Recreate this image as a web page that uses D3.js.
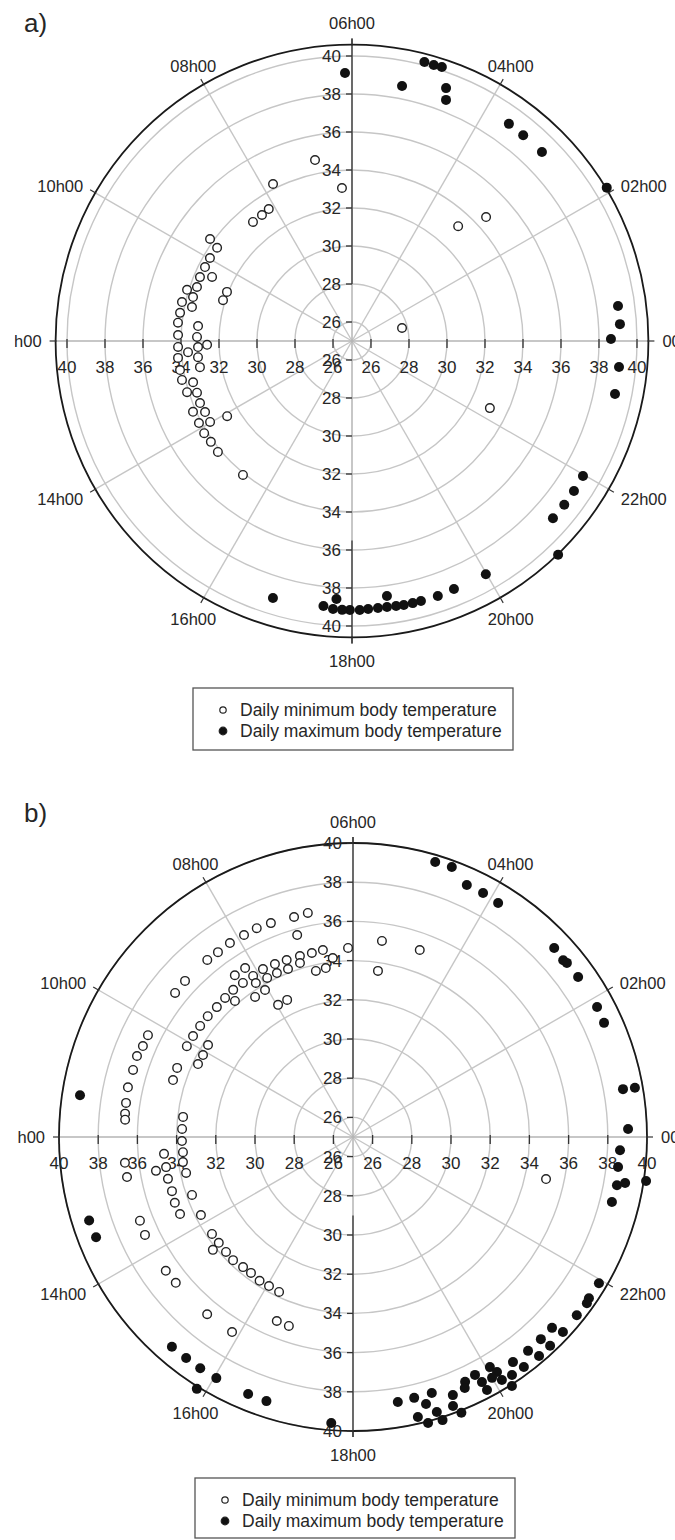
<!DOCTYPE html>
<html>
<head>
<meta charset="utf-8">
<script src="https://cdn.jsdelivr.net/npm/d3@7"></script>
<style>
  body { margin: 0; background: #fff; }
  text { font-family: "Liberation Sans", Arial, sans-serif; fill: #262626; }
</style>
</head>
<body>
<script>
// ---- data ----
var hourTicks = [0, 2, 4, 6, 8, 10, 12, 14, 16, 18, 20, 22]
var hourLabels = ['00h00', '02h00', '04h00', '06h00', '08h00', '10h00', '12h00', '14h00', '16h00', '18h00', '20h00', '22h00']
var tempTicks = [26, 28, 30, 32, 34, 36, 38, 40]
var legendLabels = ['Daily minimum body temperature', 'Daily maximum body temperature']

// [hour of day, body temperature]
var aMin = [[6.77,34.72],[6.25,33.07],[7.78,34.25],[8.15,33.21],[8.37,33.15],[8.65,33.15],[9.62,34.2],[9.69,33.63],
  [9.98,33.66],[10.22,33.66],[10.48,33.68],[10.36,33.1],[10.72,33.64],[10.85,34.09],[10.97,33.68],[11.14,34.18],
  [11.2,33.61],[11.38,34.17],[10.57,32.07],[10.83,32.12],[11.6,34.21],[11.63,33.14],[11.87,34.16],[11.9,33.16],
  [12.13,34.16],[12.15,33.11],[12.1,32.63],[12.26,33.65],[12.37,34.2],[12.4,33.15],[12.64,34.18],[12.65,33.12],
  [12.86,34.18],[12.97,33.64],[13.15,34.09],[13.23,33.6],[13.48,33.64],[13.6,34.16],[13.72,33.59],[13.88,34.14],
  [13.98,33.6],[14.13,34.17],[14.37,34.13],[14.64,34.16],[14.07,32.67],[15.39,34.09],[3.15,33.23],[2.85,34.61],
  [0.97,27.72],[22.27,33.07]]
var aMax = [[6.1,39.11],[5.26,38.68],[5.03,40.17],[4.9,40.15],[4.79,40.18],[4.64,39.2],[4.58,38.62],[3.61,39.1],
  [3.35,39.09],[2.99,39.1],[2.07,40.65],[0.5,39.12],[0.24,39.13],[0.03,38.63],[23.63,39.12],[23.24,39.12],
  [21.98,39.08],[21.73,39.1],[21.49,39.11],[21.24,39.1],[20.93,40.63],[19.99,39.15],[19.49,39.11],[19.24,39.16],
  [18.99,39.16],[18.87,39.16],[18.74,39.16],[18.63,39.14],[18.5,39.12],[18.37,39.12],[18.23,39.13],[18.11,39.16],
  [17.97,39.16],[17.86,39.16],[17.73,39.14],[17.59,39.03],[17.77,38.6],[18.52,38.55],[16.86,39.15]]
var bMin = [[6.76,36.66],[7.0,36.62],[7.4,36.69],[7.65,36.73],[7.89,36.71],[8.16,36.72],[8.41,36.68],[8.63,36.7],
  [9.14,36.7],[9.4,36.68],[10.24,36.68],[10.44,36.68],[10.63,36.77],[10.87,36.73],[11.17,36.76],[11.43,36.71],
  [7.03,35.69],[10.57,34.64],[10.83,34.63],
  [6.61,34.66],[6.84,34.62],[7.09,34.62],[7.37,34.64],[7.62,34.68],[7.88,34.72],[8.12,34.67],[8.17,35.23],
  [8.41,35.22],[8.37,34.66],[8.61,34.68],[8.84,34.64],[9.09,34.6],[9.35,34.64],[9.6,34.64],[9.85,34.65],[10.09,34.66],
  [6.61,33.73],[6.84,33.68],[7.13,34.28],[7.41,34.19],[7.66,34.22],[7.89,34.22],[8.15,34.29],[8.06,33.74],
  [8.33,33.72],[8.73,34.19],[9.84,33.76],[10.09,33.72],[10.32,33.74],[7.71,32.76],[7.97,32.75],
  [6.1,34.65],[5.44,35.11],[5.43,33.57],[4.69,35.13],[6.43,34.19],
  [11.55,33.73],[11.82,33.73],[12.09,33.73],[12.34,33.71],[12.56,33.77],[12.81,33.71],[13.32,33.73],[13.81,33.72],
  [12.34,34.68],[12.61,34.66],[12.65,35.2],[12.85,34.68],[13.11,34.64],[13.35,34.69],[13.6,34.66],[12.43,36.71],
  [12.67,36.71],[11.61,36.69],[11.71,36.66],[13.43,36.68],[13.68,36.73],[14.3,33.73],[14.55,33.72],[14.59,34.18],
  [14.81,33.74],[15.05,33.77],[15.32,33.69],[15.54,33.67],[15.8,33.75],[16.04,33.73],[16.3,33.76],[14.37,36.74],
  [14.63,36.71],[15.37,36.71],[15.88,36.71],[16.5,35.16],[16.75,35.18],[23.18,35.08]]
var bMax = [[11.42,39.09],[4.89,39.64],[4.66,39.67],[4.38,39.11],[4.13,39.11],[3.88,39.05],[2.88,39.08],[2.67,39.01],
  [2.61,39.07],[2.36,39.09],[1.87,39.11],[1.63,39.07],[0.67,38.99],[0.66,39.6],[0.11,39.04],[23.81,38.64],
  [23.57,38.61],[23.31,38.69],[23.36,39.08],[23.43,40.12],[23.06,38.62],[21.95,39.6],[21.71,39.58],[21.64,39.64],
  [21.43,39.6],[21.08,39.07],[21.14,39.62],[20.86,39.08],[20.89,39.65],[20.62,39.1],[20.69,39.66],[20.44,39.62],
  [20.36,39.09],[20.05,38.66],[20.1,39.06],[20.25,39.6],[19.81,38.64],[19.85,39.13],[20.0,39.19],[20.1,39.54],
  [20.17,40.07],[19.86,39.61],[19.64,38.74],[19.6,39.02],[19.41,39.12],[19.36,39.64],[19.43,40.12],[19.14,38.67],
  [19.02,39.12],[18.88,38.67],[19.13,39.67],[18.87,39.66],[18.98,40.09],[19.17,40.15],[18.64,38.71],[13.17,39.12],
  [13.42,39.07],[15.28,39.14],[15.53,39.13],[15.77,39.14],[16.03,39.14],[15.88,40.12],[16.52,39.16],[16.79,39.18],
  [17.71,39.63]]

// ---- drawing ----
var svg = d3.select('body').append('svg').attr('width', 675).attr('height', 1540)
svg.append('rect').attr('width', 675).attr('height', 1540).attr('fill', '#fff')

function draw_polar(cfg, min_data, max_data) {
    var g = svg.append('g')
    var cx = cfg.cx, cy = cfg.cy
    var r = d3.scaleLinear().domain([25, 40]).range([0, cfg.r40])
    var ang = d3.scaleLinear().domain([0, 24]).range([0, 2 * Math.PI])
    var outer = r(cfg.outerT)
    var px = (h, t) => cx + r(t) * Math.cos(ang(h))
    var py = (h, t) => cy - r(t) * Math.sin(ang(h))

    // the source figure is cropped on the left, cutting the 12h00 labels
    svg.append('clipPath').attr('id', 'crop' + cfg.id)
        .append('rect').attr('x', cfg.clipX).attr('y', 0).attr('width', 675).attr('height', 1540)

    // grid rings
    g.selectAll('.ring').data(tempTicks).enter().append('circle')
        .attr('cx', cx).attr('cy', cy).attr('r', d => r(d))
        .attr('fill', 'none').attr('stroke', '#c6c6c6').attr('stroke-width', 1.4)

    // spokes every two hours (main axes drawn separately)
    g.selectAll('.spoke').data(hourTicks.filter(h => h % 6 != 0)).enter().append('line')
        .attr('x1', cx).attr('y1', cy)
        .attr('x2', h => cx + outer * Math.cos(ang(h))).attr('y2', h => cy - outer * Math.sin(ang(h)))
        .attr('stroke', '#c6c6c6').attr('stroke-width', 1.4)

    // horizontal + vertical axes
    g.append('line').attr('x1', cx - outer).attr('x2', cx + outer).attr('y1', cy).attr('y2', cy)
        .attr('stroke', '#b4b4b4').attr('stroke-width', 1.5)
    g.append('line').attr('x1', cx).attr('x2', cx).attr('y1', cy - outer).attr('y2', cy + outer)
        .attr('stroke', '#b4b4b4').attr('stroke-width', 1.5)
    g.append('line').attr('x1', cx).attr('x2', cx).attr('y1', cy - outer - 6).attr('y2', cy - r(cfg.darkTop))
        .attr('stroke', '#444').attr('stroke-width', 1.4)
    g.append('line').attr('x1', cx).attr('x2', cx).attr('y1', cy + r(cfg.darkBottom)).attr('y2', cy + outer + 6)
        .attr('stroke', '#444').attr('stroke-width', 1.4)

    // outer circle
    g.append('circle').attr('cx', cx).attr('cy', cy).attr('r', outer)
        .attr('fill', 'none').attr('stroke', '#1a1a1a').attr('stroke-width', 1.8)

    // hour ticks + labels
    var hg = g.append('g').attr('clip-path', 'url(#crop' + cfg.id + ')')
    hourTicks.forEach((h, i) => {
        var a = ang(h), c = Math.cos(a), s = Math.sin(a)
        g.append('line')
            .attr('x1', cx + (outer - 1) * c).attr('y1', cy - (outer - 1) * s)
            .attr('x2', cx + (outer + 6) * c).attr('y2', cy - (outer + 6) * s)
            .attr('stroke', '#333').attr('stroke-width', 1.2)
        var side = Math.abs(c) > 0.8
        var lr = side ? outer + 14 : outer + 21
        hg.append('text')
            .attr('x', cx + lr * c).attr('y', cy - lr * s + (s < -0.3 ? 3 : 0))
            .attr('dy', '0.35em')
            .attr('text-anchor', side ? (c > 0 ? 'start' : 'end') : 'middle')
            .attr('font-size', '16.5px')
            .text(hourLabels[i])
    })

    // temperature ticks on both axes, both directions
    ;[1, -1].forEach(dir => {
        tempTicks.forEach(t => {
            var x = cx + dir * r(t)
            g.append('line').attr('x1', x).attr('x2', x).attr('y1', cy - 2).attr('y2', cy + 7)
                .attr('stroke', '#333').attr('stroke-width', 1.3)
            g.append('text').attr('x', x).attr('y', cy + 26).attr('dy', '0.35em')
                .attr('text-anchor', 'middle').attr('font-size', '17px').text(t)
            var y = cy - dir * r(t)
            g.append('line').attr('x1', cx - 6).attr('x2', cx).attr('y1', y).attr('y2', y)
                .attr('stroke', '#333').attr('stroke-width', 1.3)
            g.append('text').attr('x', cx - 11).attr('y', y).attr('dy', '0.35em')
                .attr('text-anchor', 'end').attr('font-size', '17px').text(t)
        })
    })

    // points
    g.selectAll('.minpt').data(min_data).enter().append('circle')
        .attr('cx', d => px(d[0], d[1])).attr('cy', d => py(d[0], d[1])).attr('r', 4.3)
        .attr('fill', '#fff').attr('stroke', '#222').attr('stroke-width', 1.4)
    g.selectAll('.maxpt').data(max_data).enter().append('circle')
        .attr('cx', d => px(d[0], d[1])).attr('cy', d => py(d[0], d[1])).attr('r', 5)
        .attr('fill', '#111')

    // panel tag
    svg.append('text').attr('x', 24).attr('y', cfg.tagY).attr('font-size', '26px').text(cfg.tag)

    // legend
    var lg = svg.append('g')
    lg.append('rect').attr('x', cfg.legX).attr('y', cfg.legY).attr('width', 320).attr('height', cfg.legH)
        .attr('fill', '#fff').attr('stroke', '#555').attr('stroke-width', 1.3)
    legendLabels.forEach((lab, i) => {
        var yy = cfg.legY + 22 + i * 21
        lg.append('circle').attr('cx', cfg.legX + 30).attr('cy', yy).attr('r', i == 0 ? 3.2 : 3.8)
            .attr('fill', i == 0 ? '#fff' : '#111').attr('stroke', '#222').attr('stroke-width', 1.2)
        lg.append('text').attr('x', cfg.legX + 47).attr('y', yy).attr('dy', '0.35em')
            .attr('font-size', '17.5px').text(lab)
    })
}

draw_polar({id: 'a', cx: 352, cy: 341, r40: 285, outerT: 40.6, darkTop: 28, darkBottom: 35.5, clipX: 14.6,
    tag: 'a)', tagY: 32, legX: 193, legY: 688, legH: 62}, aMin, aMax)
draw_polar({id: 'b', cx: 353, cy: 1137, r40: 294, outerT: 40, darkTop: 28, darkBottom: 29, clipX: 17.6,
    tag: 'b)', tagY: 822, legX: 195, legY: 1478, legH: 60}, bMin, bMax)
</script>
</body>
</html>
